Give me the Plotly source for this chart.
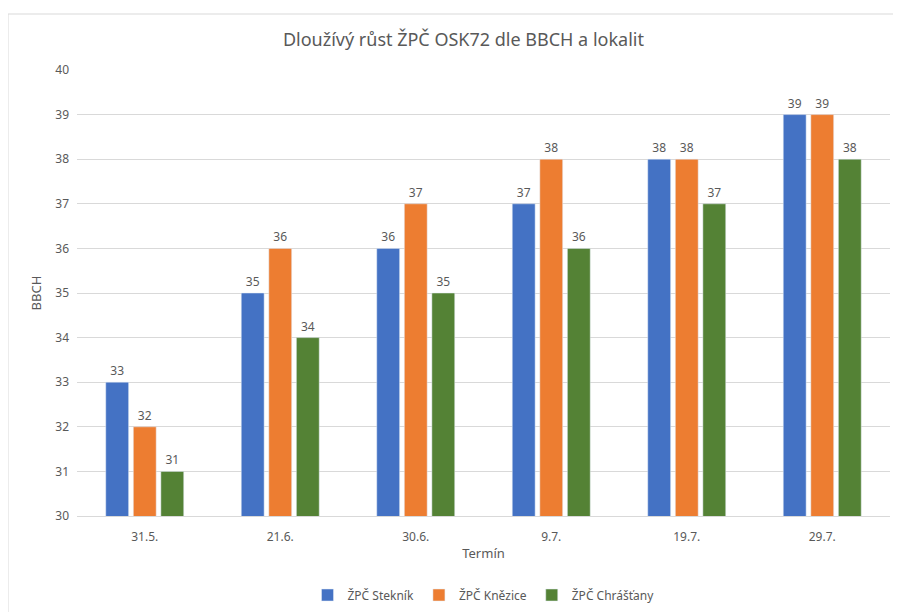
import plotly.graph_objects as go

categories = ["31.5.", "21.6.", "30.6.", "9.7.", "19.7.", "29.7."]
stekni = [33, 35, 36, 37, 38, 39]
knezice = [32, 36, 37, 38, 38, 39]
chrastany = [31, 34, 35, 36, 37, 38]
series_names = ["ŽPČ Stekník", "ŽPČ Knězice", "ŽPČ Chrášťany"]
colors = ["#4472C4", "#ED7D31", "#548235"]

font = "Noto Sans, Open Sans, sans-serif"
gray = "#595959"

fig = go.Figure()
for name, vals, c in zip(series_names, [stekni, knezice, chrastany], colors):
    fig.add_trace(go.Bar(
        x=categories, y=vals, name=name, marker_color=c,
        text=vals, textposition="outside", cliponaxis=False,
        textfont=dict(color=gray, size=12, family=font),
    ))

OFF = 8  # default page body margin
W, H = 901 - OFF, 612 - OFF
l, r, t, b = 77 - OFF, 11, 70 - OFF, 96
pw, ph = W - l - r, H - t - b

def px(x):  # page x -> paper
    return (x - OFF - l) / pw
def py(y):  # page y -> paper
    return (H - b - (y - OFF)) / ph

border = dict(color="#D9D9D9", width=1)
fig.update_layout(
    width=W, height=H,
    margin=dict(l=l, r=r, t=t, b=b, autoexpand=False),
    plot_bgcolor="white", paper_bgcolor="white",
    barmode="group", bargap=0.39, bargroupgap=0.17,
    title=dict(text="Dloužívý růst ŽPČ OSK72 dle BBCH a lokalit", x=0.51, xanchor="center",
               y=1 - (40 - OFF) / H, yanchor="middle",
               font=dict(size=18, color=gray, family=font)),
    font=dict(family=font, color=gray, size=12),
    legend=dict(orientation="h", x=0.5, xanchor="center", y=py(595), yanchor="middle",
                font=dict(size=12, color=gray), itemwidth=30, tracegroupgap=0),
    xaxis=dict(title=dict(text="Termín", font=dict(size=13, color=gray), standoff=4),
               automargin=False,
               showline=True, linecolor="#D9D9D9", linewidth=1, ticks="",
               ticklabelstandoff=10,
               tickfont=dict(size=12, color=gray)),
    yaxis=dict(title=dict(text="BBCH", font=dict(size=13, color=gray), standoff=10),
               automargin=False,
               range=[30, 40], dtick=1, gridcolor="#D9D9D9", showline=False,
               zeroline=False, ticks="", ticklabelstandoff=7,
               tickfont=dict(size=12, color=gray)),
    shapes=[
        dict(type="line", xref="paper", yref="paper",
             x0=px(8), x1=px(901), y0=py(14), y1=py(14), line=border, layer="below"),
        dict(type="line", xref="paper", yref="paper",
             x0=px(8), x1=px(8), y0=py(14), y1=py(612), line=border, layer="below"),
    ],
)

fig.write_html("out.html")
